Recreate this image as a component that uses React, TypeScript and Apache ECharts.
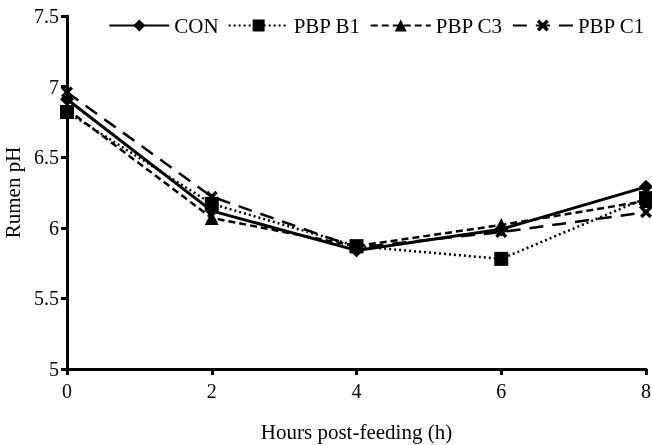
import React, { useEffect, useRef } from "react";
import * as echarts from "echarts";

const hours = [0, 2, 4, 6, 8];
const con = [6.91, 6.12, 5.84, 5.99, 6.29];
const pbpB1 = [6.82, 6.17, 5.87, 5.78, 6.21];
const pbpC3 = [6.84, 6.07, 5.87, 6.02, 6.19];
const pbpC1 = [6.96, 6.22, 5.86, 5.97, 6.11];
const yTicks = [5, 5.5, 6, 6.5, 7, 7.5];

const crossPath =
  "path://M2,0 L5,3 L8,0 L10,2 L7,5 L10,8 L8,10 L5,7 L2,10 L0,8 L3,5 L0,2 Z";

const font = "Liberation Serif";

export default function App() {
  const ref = useRef<HTMLDivElement>(null);
  useEffect(() => {
    if (!ref.current) return;
    const chart = echarts.init(ref.current, null, { renderer: "svg" });
    const mk = (name: string, data: number[], symbol: string, size: number, type: any, width: number) => ({
      name,
      type: "line",
      data: hours.map((h, i) => [h, data[i]]),
      symbol,
      symbolSize: size,
      itemStyle: { color: "#000", borderWidth: 0 },
      lineStyle: { color: "#000", width, type },
      emphasis: { disabled: true },
    });
    chart.setOption({
      animation: false,
      textStyle: { fontFamily: font },
      legend: {
        top: 10,
        right: 2,
        itemWidth: 60,
        itemHeight: 15,
        itemGap: 9,
        textStyle: { fontFamily: font, fontSize: 21, color: "#000" },
        data: ["CON", "PBP B1", "PBP C3", "PBP C1"],
      },
      grid: { left: 67, right: 6, top: 16, bottom: 76, containLabel: false, outerBoundsMode: "none" },
      xAxis: {
        type: "value",
        min: 0,
        max: 8,
        interval: 2,
        name: "Hours post-feeding (h)",
        nameLocation: "middle",
        nameGap: 52,
        nameTextStyle: { fontFamily: font, fontSize: 21, color: "#000" },
        axisLine: { onZero: false, lineStyle: { color: "#000", width: 3 } },
        axisTick: { show: true, length: 6, lineStyle: { color: "#000", width: 3 } },
        axisLabel: { fontFamily: font, fontSize: 20, color: "#000", margin: 12 },
        splitLine: { show: false },
      },
      yAxis: {
        type: "value",
        min: 5,
        max: 7.5,
        interval: 0.5,
        name: "Rumen pH",
        nameLocation: "middle",
        nameGap: 39,
        nameTextStyle: { fontFamily: font, fontSize: 21, color: "#000" },
        axisLine: { lineStyle: { color: "#000", width: 3 } },
        axisTick: { show: true, length: 6, lineStyle: { color: "#000", width: 3 } },
        axisLabel: {
          fontFamily: font,
          fontSize: 20,
          color: "#000",
          margin: 8,
          formatter: (v: number) => (yTicks.includes(v) ? String(v) : ""),
        },
        splitLine: { show: false },
      },
      series: [
        mk("CON", con, "diamond", 14, "solid", 3),
        mk("PBP B1", pbpB1, "rect", 14, [2, 3], 2.5),
        mk("PBP C3", pbpC3, "triangle", 14, [7, 4], 2.5),
        mk("PBP C1", pbpC1, crossPath, 12, [14, 9], 2.5),
      ],
    });
    return () => chart.dispose();
  }, []);
  return <div ref={ref} style={{ position: "fixed", left: 0, top: 0, width: 652, height: 445 }} />;
}
